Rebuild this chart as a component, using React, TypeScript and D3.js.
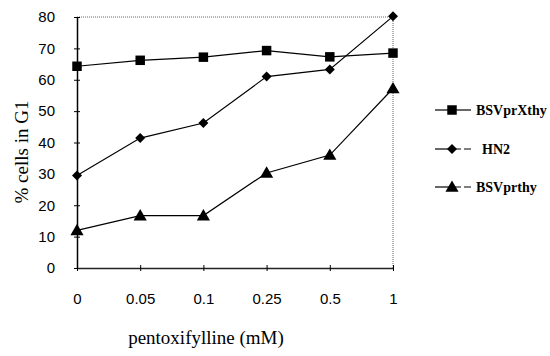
import React, { useEffect, useRef } from "react";
import * as d3 from "d3";

const doses = ["0", "0.05", "0.1", "0.25", "0.5", "1"];
const yTicks = [0, 10, 20, 30, 40, 50, 60, 70, 80];
const bsvprxthy = [64.3, 66.2, 67.2, 69.3, 67.3, 68.5];
const hn2 = [29.5, 41.4, 46.2, 61.0, 63.3, 80.2];
const bsvprthy = [12.0, 16.7, 16.7, 30.3, 36.0, 57.2];
const seriesNames = ["BSVprXthy", "HN2", "BSVprthy"];

const width = 550;
const height = 356;
const margin = { top: 17, right: 157, bottom: 88, left: 77 };

function App() {
  const ref = useRef<SVGSVGElement>(null);

  useEffect(() => {
    const svg = d3.select(ref.current);
    svg.selectAll("*").remove();

    const x = d3
      .scalePoint()
      .domain(doses)
      .range([margin.left, width - margin.right]);
    const y = d3
      .scaleLinear()
      .domain([0, 80])
      .range([height - margin.bottom, margin.top]);

    const x0 = margin.left;
    const x1 = width - margin.right;
    const y0 = height - margin.bottom;
    const y1 = margin.top;

    // dotted frame top + right
    svg
      .append("path")
      .attr("d", `M${x0},${y1}H${x1}V${y0}`)
      .attr("fill", "none")
      .attr("stroke", "#666")
      .attr("stroke-width", 1)
      .attr("stroke-dasharray", "1,1");

    // y axis
    const yAxis = d3
      .axisLeft(y)
      .tickValues(yTicks)
      .tickSizeInner(3)
      .tickSizeOuter(0)
      .tickPadding(19);
    const gy = svg.append("g").attr("transform", `translate(${x0},0)`).call(yAxis);
    gy.select(".domain").attr("stroke", "#000").attr("stroke-width", 1.5);
    gy.selectAll(".tick line")
      .attr("x1", 3)
      .attr("x2", -3)
      .attr("stroke", "#000");
    gy.selectAll(".tick text")
      .attr("font-family", "Liberation Sans, Arial, sans-serif")
      .attr("font-size", 15)
      .attr("fill", "#000");

    // x axis
    const xAxis = d3
      .axisBottom(x)
      .tickSizeInner(3)
      .tickSizeOuter(0)
      .tickPadding(22);
    const gx = svg.append("g").attr("transform", `translate(0,${y0})`).call(xAxis);
    gx.select(".domain").attr("stroke", "#222").attr("stroke-width", 1.3);
    gx.selectAll(".tick line")
      .attr("y1", -3)
      .attr("y2", 3)
      .attr("stroke", "#000");
    gx.selectAll(".tick text")
      .attr("font-family", "Liberation Sans, Arial, sans-serif")
      .attr("font-size", 15)
      .attr("fill", "#000");

    // titles
    svg
      .append("text")
      .attr("x", 206)
      .attr("y", 344)
      .attr("text-anchor", "middle")
      .attr("font-family", "Liberation Serif, Times New Roman, serif")
      .attr("font-size", 19)
      .text("pentoxifylline (mM)");
    svg
      .append("text")
      .attr("transform", `translate(28,152) rotate(-90)`)
      .attr("text-anchor", "middle")
      .attr("font-family", "Liberation Serif, Times New Roman, serif")
      .attr("font-size", 19)
      .text("% cells in G1");

    const line = d3
      .line<number>()
      .x((d, i) => x(doses[i]) as number)
      .y((d) => y(d));

    // square, diamond (rotated square), triangle
    const symbols = [
      d3.symbol().type(d3.symbolSquare).size(90),
      d3.symbol().type(d3.symbolSquare).size(50),
      d3.symbol().type(d3.symbolTriangle).size(75),
    ];
    const rot = [0, 45, 0];
    const dy = [0, 0, 1];
    const allSeries = [bsvprxthy, hn2, bsvprthy];

    allSeries.forEach((vals, k) => {
      svg
        .append("path")
        .datum(vals)
        .attr("d", line)
        .attr("fill", "none")
        .attr("stroke", "#000")
        .attr("stroke-width", 1.2);
      svg
        .selectAll(`.pt${k}`)
        .data(vals)
        .enter()
        .append("path")
        .attr("class", `pt${k}`)
        .attr("d", symbols[k] as any)
        .attr(
          "transform",
          (d, i) => `translate(${x(doses[i])},${y(d) + dy[k]}) rotate(${rot[k]})`
        )
        .attr("fill", "#000");
    });

    // legend
    const legendY = [110, 149, 187];
    seriesNames.forEach((name, k) => {
      const g = svg.append("g").attr("transform", `translate(0,${legendY[k]})`);
      g.append("line")
        .attr("x1", 435)
        .attr("x2", 452)
        .attr("stroke", "#000")
        .attr("stroke-width", 1.2);
      g.append("line")
        .attr("x1", 452)
        .attr("x2", 471)
        .attr("stroke", "#000")
        .attr("stroke-width", 1.2)
        .attr("stroke-dasharray", k === 0 ? null : "9,3");
      g.append("path")
        .attr("d", symbols[k] as any)
        .attr("transform", `translate(452,${dy[k]}) rotate(${rot[k]})`)
        .attr("fill", "#000");
      g.append("text")
        .attr("x", k === 1 ? 482 : 476)
        .attr("y", 5)
        .attr("font-family", "Liberation Serif, Times New Roman, serif")
        .attr("font-weight", "bold")
        .attr("font-size", 14)
        .text(name);
    });
  }, []);

  return (
    <svg
      ref={ref}
      width={width}
      height={height}
      style={{ position: "absolute", left: 0, top: 0, background: "#fff" }}
    ></svg>
  );
}

export default App;
